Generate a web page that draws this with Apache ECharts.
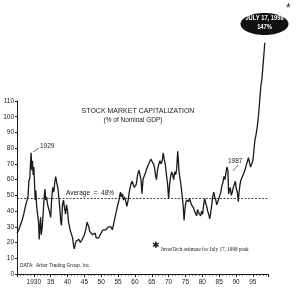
<!DOCTYPE html>
<html>
<head>
<meta charset="utf-8">
<script src="https://cdn.jsdelivr.net/npm/echarts@6/dist/echarts.min.js"></script>
<style>
  html, body { margin: 0; padding: 0; background: #fff; }
  #chart { width: 300px; height: 288px; }
</style>
</head>
<body>
<div id="chart"></div>
<script>
// market cap as % of nominal GDP (fractional years)
var years = [
  1925.0, 1925.5, 1926.0, 1926.5, 1927.0, 1927.5, 1928.0, 1928.3, 1928.5, 1928.8,
  1929.0, 1929.2, 1929.4, 1929.6, 1929.8, 1930.0, 1930.2, 1930.4, 1930.6, 1930.8,
  1931.1, 1931.4, 1931.6, 1931.8, 1932.0, 1932.2, 1932.5, 1932.8, 1933.1, 1933.3,
  1933.5, 1933.8, 1934.1, 1934.4, 1934.7, 1935.0, 1935.3, 1935.6, 1935.9, 1936.2,
  1936.5, 1936.8, 1937.1, 1937.4, 1937.7, 1938.0, 1938.2, 1938.5, 1938.8, 1939.1,
  1939.4, 1939.7, 1940.0, 1940.3, 1940.6, 1940.9, 1941.2, 1941.5, 1941.8, 1942.0,
  1942.3, 1942.6, 1943.0, 1943.4, 1943.8, 1944.2, 1944.6, 1945.0, 1945.4, 1945.8,
  1946.0, 1946.3, 1946.6, 1947.0, 1947.4, 1947.8, 1948.2, 1948.5, 1948.9, 1949.3,
  1949.7, 1950.1, 1950.5, 1950.9, 1951.3, 1951.7, 1952.1, 1952.5, 1952.9, 1953.3,
  1953.7, 1954.1, 1954.5, 1954.9, 1955.3, 1955.7, 1956.0, 1956.3, 1956.6, 1956.9,
  1957.2, 1957.6, 1958.0, 1958.4, 1958.8, 1959.2, 1959.5, 1959.8, 1960.1, 1960.4,
  1960.8, 1961.2, 1961.5, 1961.8, 1962.1, 1962.4, 1962.7, 1963.1, 1963.5, 1963.9,
  1964.3, 1964.7, 1965.1, 1965.5, 1965.8, 1966.1, 1966.4, 1966.7, 1967.0, 1967.4,
  1967.8, 1968.1, 1968.4, 1968.7, 1969.0, 1969.3, 1969.7, 1970.0, 1970.3, 1970.6,
  1970.9, 1971.2, 1971.5, 1971.8, 1972.1, 1972.4, 1972.7, 1972.9, 1973.1, 1973.4,
  1973.7, 1974.0, 1974.3, 1974.6, 1974.8, 1975.0, 1975.3, 1975.6, 1975.9, 1976.2,
  1976.5, 1976.8, 1977.1, 1977.4, 1977.7, 1978.0, 1978.3, 1978.6, 1978.9, 1979.2,
  1979.5, 1979.8, 1980.1, 1980.4, 1980.7, 1981.0, 1981.3, 1981.6, 1981.9, 1982.2,
  1982.5, 1982.8, 1983.1, 1983.4, 1983.7, 1984.0, 1984.3, 1984.6, 1984.9, 1985.2,
  1985.5, 1985.8, 1986.1, 1986.4, 1986.7, 1987.0, 1987.3, 1987.6, 1987.8, 1988.0,
  1988.3, 1988.6, 1988.9, 1989.2, 1989.5, 1989.8, 1990.1, 1990.4, 1990.7, 1990.9,
  1991.2, 1991.5, 1991.8, 1992.1, 1992.5, 1992.9, 1993.3, 1993.7, 1994.0, 1994.3,
  1994.7, 1995.0, 1995.3, 1995.6, 1995.9, 1996.2, 1996.5, 1996.8, 1997.1, 1997.4,
  1997.7, 1998.0, 1998.3, 1998.54
];
var capPct = [
  26, 28, 31, 34, 38, 43, 47, 50, 59, 61,
  70, 77, 66, 72, 63, 68, 58, 47, 53, 44,
  38, 33, 22, 30, 36, 25, 30, 40, 50, 54,
  47, 49, 44, 45, 39, 36, 48, 55, 52, 58,
  62, 58, 55, 49, 42, 33, 31, 44, 47, 42,
  38, 44, 40, 33, 30, 27, 26, 23, 18, 16,
  19, 21, 20, 22, 20, 21, 23, 25, 28, 33,
  34, 30, 27, 26, 25, 24, 26, 23, 22, 23,
  25, 26, 28, 27, 28, 29, 30, 29, 30, 28,
  32, 36, 40, 44, 47, 52, 49, 51, 47, 49,
  47, 43, 47, 53, 57, 59, 57, 55, 54, 57,
  63, 66, 67, 60, 51, 60, 62, 64, 67, 69,
  71, 73, 74, 70, 68, 63, 60, 66, 69, 72,
  70, 72, 77, 73, 70, 64, 57, 48, 57, 62,
  65, 63, 60, 65, 63, 67, 78, 72, 65, 66,
  56, 50, 44, 34, 40, 44, 47, 48, 46, 48,
  47, 44, 45, 42, 40, 41, 37, 41, 39, 40,
  37, 40, 38, 44, 48, 45, 43, 40, 38, 35,
  39, 44, 49, 52, 49, 47, 44, 46, 48, 50,
  52, 56, 58, 62, 60, 64, 68, 66, 51, 53,
  55, 50, 52, 55, 57, 59, 54, 52, 46, 52,
  57, 60, 61, 63, 65, 68, 71, 74, 71, 68,
  67, 72, 78, 85, 88, 92, 97, 104, 112, 120,
  124, 132, 140, 147
];
var average = 48;
var yTicks = [0, 10, 20, 30, 40, 50, 60, 70, 80, 90, 100, 110];

var points = years.map(function (y, i) { return [y, capPct[i]]; });
var last = points[points.length - 1];

var chart = echarts.init(document.getElementById("chart"));
var ink = "#1a1a1a";
var sans = "Liberation Sans, Arial, sans-serif";
var narrow = "Liberation Sans Narrow, Liberation Sans, Arial";

var option = {
  backgroundColor: "#fff",
  animation: false,
  grid: { left: 17, right: 32, top: 101, bottom: 14, outerBoundsMode: "none" },
  xAxis: {
    type: "value",
    min: 1925,
    max: 1999.5,
    interval: 5,
    splitLine: { show: false },
    axisLine: { lineStyle: { color: ink, width: 1 } },
    axisTick: { show: true, length: 3, lineStyle: { color: ink } },
    minorTick: { show: true, splitNumber: 5, length: 1.5, lineStyle: { color: ink } },
    axisLabel: {
      margin: 5,
      fontSize: 6.5,
      fontFamily: sans,
      color: ink,
      formatter: function (v) {
        if (v % 5 !== 0 || v === 1925) return "";
        if (v === 1930) return "1930";
        return String(v).slice(2);
      }
    }
  },
  yAxis: {
    type: "value",
    min: yTicks[0],
    max: yTicks[yTicks.length - 1],
    interval: 10,
    splitLine: { show: false },
    axisLine: { show: true, lineStyle: { color: ink, width: 1 } },
    axisTick: { show: true, length: 2, lineStyle: { color: ink } },
    axisLabel: { margin: 3, fontSize: 6.5, fontFamily: sans, color: ink }
  },
  series: [
    {
      type: "line",
      data: points,
      clip: false,
      showSymbol: false,
      lineStyle: { color: ink, width: 1.3 },
      markLine: {
        silent: true,
        symbol: "none",
        label: { show: false },
        lineStyle: { color: ink, type: [2, 1.5], width: 0.8 },
        data: [{ yAxis: average }]
      },
      markPoint: {
        silent: true,
        symbol: "arrow",
        symbolSize: [3, 4],
        itemStyle: { color: ink },
        label: { show: false },
        data: [{ coord: last }]
      }
    }
  ],
  graphic: [
    { type: "text", x: 138, y: 108, style: { text: "STOCK MARKET CAPITALIZATION", fontSize: 7, fontFamily: sans, fill: ink, textAlign: "center" } },
    { type: "text", x: 133, y: 117, style: { text: "(% of Nominal GDP)", fontSize: 6.5, fontFamily: sans, fill: ink, textAlign: "center" } },
    { type: "text", x: 40, y: 143, style: { text: "1929", fontSize: 6.5, fontFamily: sans, fill: ink } },
    { type: "line", shape: { x1: 33, y1: 152, x2: 39, y2: 148 }, style: { stroke: ink, lineWidth: 0.6 } },
    { type: "text", x: 228, y: 158, style: { text: "1987", fontSize: 6.5, fontFamily: sans, fill: ink } },
    { type: "line", shape: { x1: 238, y1: 165, x2: 233, y2: 171 }, style: { stroke: ink, lineWidth: 0.6 } },
    { type: "text", x: 66, y: 190, style: { text: "Average  =  48%", fontSize: 6.5, fontFamily: sans, fill: ink } },
    { type: "text", x: 20, y: 263, style: { text: "DATA:  Arbor Trading Group, Inc.", fontSize: 4.8, fontFamily: sans, fill: ink } },
    { type: "text", x: 152, y: 241, style: { text: "\u2731", fontSize: 9, fontFamily: "DejaVu Sans", fill: ink } },
    { type: "text", x: 161, y: 247, style: { text: "InvesTech estimate for July 17, 1998 peak", fontSize: 5.2, fontFamily: "Liberation Serif, serif", fill: ink } },
    { type: "ellipse", shape: { cx: 264.5, cy: 24, rx: 24, ry: 11 }, style: { fill: "#111" } },
    { type: "text", x: 264.5, y: 15, scaleX: 0.8, style: { text: "JULY 17, 1998", fontSize: 7.2, fontWeight: "bold", fontFamily: narrow, fill: "#fff", textAlign: "center" } },
    { type: "text", x: 264.5, y: 23.5, scaleX: 0.8, style: { text: "147%", fontSize: 7.2, fontWeight: "bold", fontFamily: narrow, fill: "#fff", textAlign: "center" } },
    { type: "text", x: 286, y: 3, style: { text: "*", fontSize: 12, fontFamily: sans, fill: ink } }
  ]
};
chart.setOption(option);
</script>
</body>
</html>
